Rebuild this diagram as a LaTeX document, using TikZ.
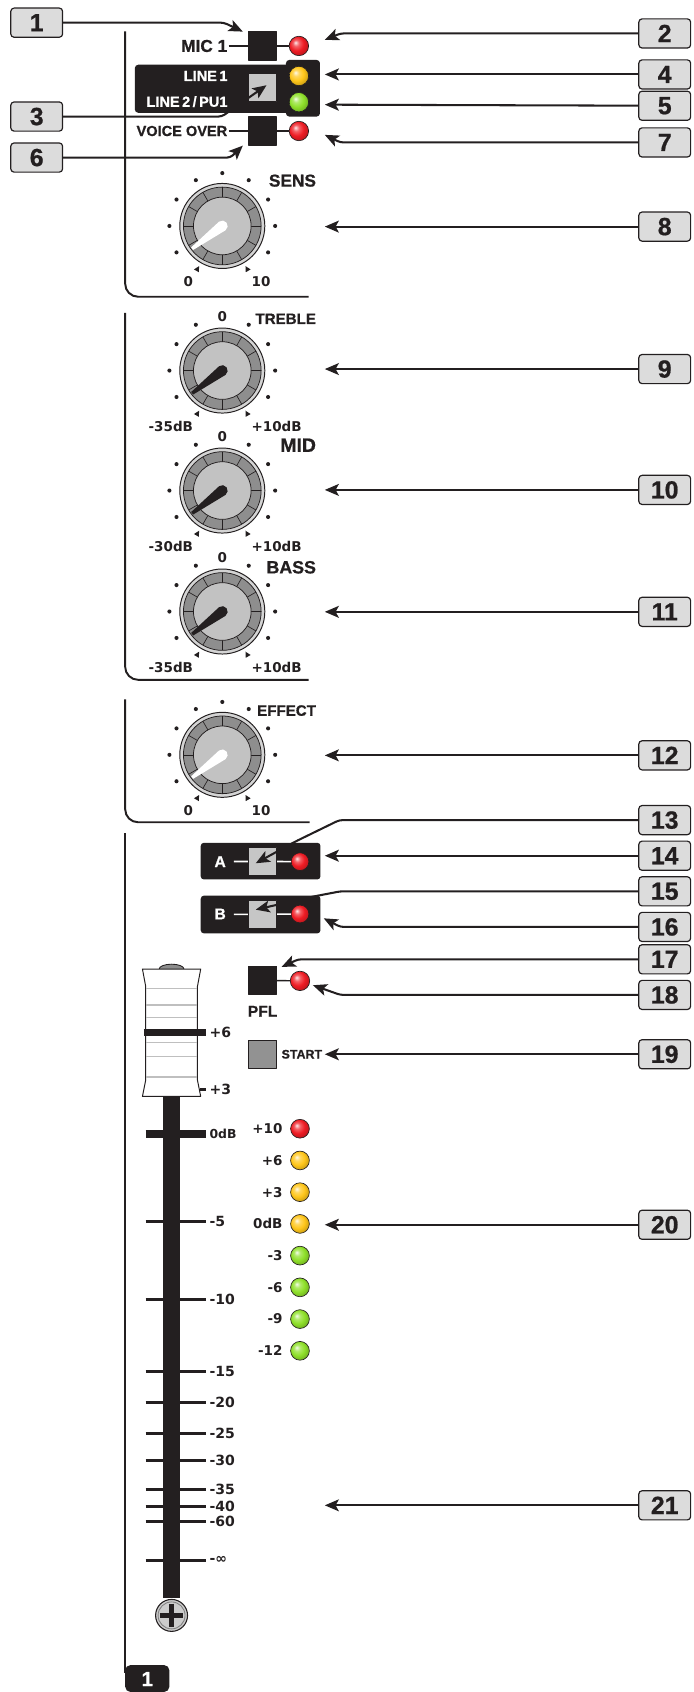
\documentclass[tikz,border=0pt]{standalone}
\usepackage{fontspec}
\setmainfont{Liberation Sans}
\newfontfamily\heavyfont[FakeBold=0.8]{Liberation Sans}
\newfontfamily\dvfont{DejaVu Sans}
\usetikzlibrary{arrows.meta, positioning}

\definecolor{ink}{HTML}{231F20}
\definecolor{boxgray}{HTML}{DCDCDC}
\definecolor{knobrim}{HTML}{D4D4D4}
\definecolor{knobring}{HTML}{8E8E8E}
\definecolor{knobface}{HTML}{C2C2C2}
\definecolor{btngray}{HTML}{C6C6C6}
\definecolor{startgray}{HTML}{929292}
\definecolor{ledred}{HTML}{EE1C24}
\definecolor{ledyellow}{HTML}{FFC61A}
\definecolor{ledgreen}{HTML}{8FE02A}

\makeatletter
\pgfdeclareradialshading[tikz@ball]{ledball}{\pgfqpoint{-9bp}{9bp}}{%
    color(0bp)=(tikz@ball!10!white); color(8bp)=(tikz@ball!70!white);
    color(18bp)=(tikz@ball); color(26bp)=(tikz@ball!85!black); color(50bp)=(tikz@ball!55!black)}
\makeatother

\begin{document}
\begin{tikzpicture}[x=1pt, y=-1pt, line join=round,
    callout/.style={draw=ink, fill=boxgray, line width=1.1pt, rounded corners=3pt,
        minimum width=48pt, minimum height=27pt, inner sep=0pt, text=ink,
        font=\heavyfont\fontsize{23}{23}\selectfont\bfseries},
    arr/.style={draw=ink, line width=1.9pt, rounded corners=3pt,
        -{Stealth[length=13pt, width=11pt, inset=3pt]}},
    panel/.style={draw=ink, line width=1.8pt, rounded corners=12pt},
    led/.style={circle, minimum size=18pt, inner sep=0pt, draw=ink, line width=0.6pt,
        shade, ball color=#1, shading=ledball},
    btn/.style={rectangle, minimum size=26pt, inner sep=0pt, draw=ink, line width=1pt, fill=#1},
    lbl/.style={text=ink, inner sep=1pt, font=\heavyfont\fontsize{#1}{#1}\selectfont\bfseries},
    lbl/.default=14,
    scl/.style={text=ink, inner sep=1pt, font=\dvfont\fontsize{#1}{#1}\selectfont\bfseries},
    scl/.default=12.5]
    \useasboundingbox (0,0) rectangle (643,1568);

    % 面板分区线
    \draw[panel] (116,29) -- (116,275) -- (286,275);
    \draw[panel] (116,290) -- (116,630) -- (286,630);
    \draw[panel] (116,648) -- (116,762) -- (287,762);
    \draw[panel] (116,772) -- (116,1550);
    \fill[ink, rounded corners=5pt] (116,1568) -- (116,1543) -- (157,1543) -- (157,1568) -- cycle;
    \node[lbl=19, text=white] (tab) at (136.5,1556) {1};

    % 输入选择
    \node[btn=ink] (mic) at (243.3,42.6) {};
    \node[led=ledred] (micled) at (277,42.6) {};
    \node[lbl=16, left=18pt of mic] (miclbl) {MIC 1};
    \draw[ink, line width=1.3pt] (miclbl) -- (mic) (mic) -- (micled);

    \fill[ink, rounded corners=3pt] (125,60) rectangle (268,104.5);
    \fill[ink, rounded corners=3pt] (265,55.6) rectangle (296.5,108);
    \node[btn=btngray] (line) at (243.3,81.4) {};
    \node[led=ledyellow] (l1led) at (277,70.4) {};
    \node[led=ledgreen] (l2led) at (277,94.7) {};
    \node[lbl=13.5, text=white, anchor=east] (l1lbl) at (212,70.4) {LINE\,1};
    \node[lbl=13.5, text=white, anchor=east] (l2lbl) at (212,94.2) {LINE\,2\,/\,PU1};

    \node[btn=ink] (vo) at (243.3,121.4) {};
    \node[led=ledred] (voled) at (277,121.4) {};
    \node[lbl=13.5, left=18pt of vo] (volbl) {VOICE OVER};
    \draw[ink, line width=1.3pt] (volbl) -- (vo) (vo) -- (voled);

    % 旋钮
    \foreach \kn/\ky/\kp/\klo/\khi/\kz/\kt/\ks/\ko in {
        sens/209.4/white/0/10/n/SENS/16/42,
        treble/343.4/ink/-35dB/+10dB/y/TREBLE/14/48,
        mid/454.6/ink/-30dB/+10dB/y/MID/18/42,
        bass/566.7/ink/-35dB/+10dB/y/BASS/16.5/41,
        effect/699.5/white/0/10/n/EFFECT/14/41}
    {
        \begin{scope}[shift={(206,\ky)}, yscale=-1]
            \filldraw[fill=knobrim, draw=ink, line width=0.9pt] (0,0) circle (39.4);
            \filldraw[fill=knobring, draw=ink, line width=0.7pt] (0,0) circle (36);
            \foreach \a in {0,30,...,330}
                \draw[ink, line width=0.6pt] (\a:26.7) -- (\a:36);
            \filldraw[fill=knobface, draw=ink, line width=0.7pt] (0,0) circle (26.7);
            \fill[fill=\kp, rotate=-217] (0,5) arc[start angle=90, end angle=270, radius=5]
                -- (35,-1.5) -- (35,1.5) -- cycle;
            \foreach \a in {-30,0,30,60,120,150,180,210}
                \fill[ink] (\a:49) circle (1.9);
            \foreach \a in {-60,240}
                \fill[ink, rotate=-\a] (43,0) -- (48,2.6) -- (48,-2.6) -- cycle;
            \if\kz y
                \node[scl] (\kn zero) at (0,50) {0};
            \else
                \fill[ink] (90:49) circle (1.9);
            \fi
            \node[scl, anchor=east] (\kn lo) at (-26,-52) {\klo};
            \node[scl, anchor=west] (\kn hi) at (26,-52) {\khi};
            \node[lbl=\ks, anchor=east] (\kn title) at (88,\ko) {\kt};
        \end{scope}
    }

    % 交叉推子分配
    \fill[ink, rounded corners=3pt] (186,781) rectangle (297,815);
    \node[btn=btngray] (swa) at (243.3,798.3) {};
    \node[led=ledred, minimum size=16.5pt] (leda) at (278,798.5) {};
    \node[lbl=14.5, text=white] (lbla) at (204,798.5) {A};
    \draw[white, line width=1.5pt] ([xshift=-13pt]swa.west) -- (swa.west) (swa) -- (leda);

    \fill[ink, rounded corners=3pt] (186,830) rectangle (297,865);
    \node[btn=btngray] (swb) at (243.3,847.3) {};
    \node[led=ledred, minimum size=16.5pt] (ledb) at (278,847) {};
    \node[lbl=14.5, text=white] (lblb) at (204,847) {B};
    \draw[white, line width=1.5pt] ([xshift=-13pt]swb.west) -- (swb.west) (swb) -- (ledb);

    % PFL 与 START
    \node[btn=ink] (pfl) at (243.3,908.5) {};
    \node[led=ledred] (pflled) at (278,909) {};
    \draw[ink, line width=1.3pt] (pfl) -- (pflled);
    \node[lbl=14.5, below=9pt of pfl] (pfllbl) {PFL};
    \node[btn=startgray] (start) at (243.3,977) {};
    \node[lbl=11.5, right=3pt of start] (startlbl) {START};

    % 推子
    \fill[ink] (151,905) rectangle (167,1481);
    \draw[ink, line width=6.8pt] (135,1051) -- (191,1051);
    \node[scl=11.5, anchor=west] (f0) at (193,1051) {0dB};
    \foreach \y/\t in {1132/-5, 1204/-10, 1271/-15, 1300/-20, 1328/-25, 1353/-30,
                      1380/-35, 1396/-40, 1410/-60, 1446/-∞} {
        \draw[ink, line width=2.8pt] (135,\y) -- (191,\y);
        \node[scl=13, anchor=west] (f\y) at (193,\y) {\t};
    }
    \filldraw[fill=black!45, draw=ink, line width=0.8pt] (159,898) ellipse [x radius=11.5, y radius=4.5];
    \filldraw[fill=white, draw=ink, line width=0.9pt] (132,898) -- (186,898) -- (183,914)
        -- (183,1001) -- (186,1016) -- (132,1016) -- (135,1001) -- (135,914) -- cycle;
    \foreach \y in {916,931,943,966,979,998}
        \draw[black!25, line width=1.6pt] (135.5,\y) -- (182.5,\y);
    \draw[ink, line width=7pt] (133,957) -- (191,957);
    \node[scl=13, anchor=west] (fp6) at (193,957) {+6};
    \draw[ink, line width=2.8pt] (185,1010) -- (191,1010);
    \node[scl=13, anchor=west] (fp3) at (193,1010) {+3};
    \filldraw[fill=black!20, draw=ink, line width=1pt] (159,1497) circle (14.8);
    \draw[black!50, line width=0.8pt] (159,1497) circle (12.5);
    \draw[ink, line width=5pt] (148,1497) -- (170,1497) (159,1486) -- (159,1508);

    % 电平表
    \foreach \lab/\col [count=\i] in {+10/ledred, +6/ledyellow, +3/ledyellow, 0dB/ledyellow,
                                     -3/ledgreen, -6/ledgreen, -9/ledgreen, -12/ledgreen} {
        \node[led=\col, minimum size=17.4pt] (m\i) at (278,{1046+(\i-1)*29.4}) {};
        \node[scl=12.5, anchor=east] (ml\i) at (263,{1046+(\i-1)*29.4}) {\lab};
    }

    % 编号框
    \node[callout] (c1) at (34,21) {1};
    \node[callout] (c3) at (34,108) {3};
    \node[callout] (c6) at (34,146) {6};
    \foreach \n/\y in {2/31, 4/69, 5/98, 7/132, 8/210, 9/342, 10/454, 11/567, 12/700,
                      13/760, 14/793, 15/826, 16/859, 17/889, 18/922, 19/977, 20/1135, 21/1395}
        \node[callout] (c\n) at (616,\y) {\n};

    % 指示箭头
    \coordinate (t1) at (225,29.3);
    \coordinate (t2) at (301,37);
    \coordinate (t3) at (247,79);
    \coordinate (t6) at (225,135);
    \coordinate (t7) at (301,125);
    \coordinate (t13) at (237,800);
    \coordinate (t15) at (237,843);
    \coordinate (t16) at (300,851);
    \coordinate (t17) at (261,896);
    \coordinate (t18) at (290,913);
    \draw[arr] (c1.east) -- ++(149,0) -- (t1);
    \draw[arr] (c2.west) -- ++(-276,0) -- (t2);
    \draw[arr] (c3.east) -- ++(147,0) -- (t3);
    \draw[arr] (c6.east) -- ++(155,0) -- (t6);
    \draw[arr] (c7.west) -- ++(-276,0) -- (t7);
    \foreach \n/\y in {4/69, 5/97, 8/210, 9/342, 10/454, 11/567, 12/700, 14/793,
                      19/977, 20/1135, 21/1395} {
        \coordinate (t\n) at (301,\y);
        \draw[arr] (c\n) -- (t\n);
    }
    \draw[arr] (c13.west) -- ++(-277,0) -- ++(-41,20) -- (t13);
    \draw[arr] (c15.west) -- ++(-276,0) -- ++(-26,5) -- (t15);
    \draw[arr] (c16.west) -- ++(-276,0) -- (t16);
    \draw[arr] (c17.west) -- ++(-315,0) -- (t17);
    \draw[arr] (c18.west) -- ++(-276,0) -- (t18);
\end{tikzpicture}
\end{document}
